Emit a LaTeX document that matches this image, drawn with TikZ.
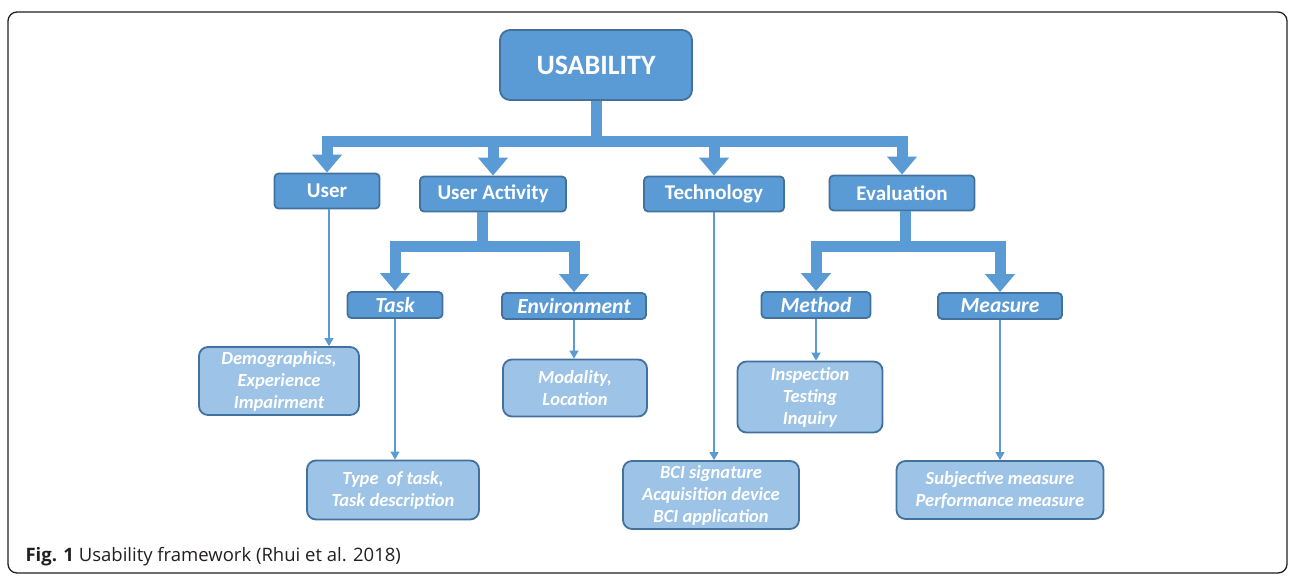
\documentclass[tikz,border=0pt]{standalone}
\usepackage{fontspec}
\setmainfont{Carlito}
\newfontfamily\capfont{Open Sans}
\usetikzlibrary{arrows.meta}
\definecolor{boxblue}{HTML}{5B9BD5}
\definecolor{edgeblue}{HTML}{41719C}
\definecolor{paleblue}{HTML}{9DC3E6}
\definecolor{captext}{HTML}{231F20}

\begin{document}
\begin{tikzpicture}[x=1pt, y=-1pt,
    topbox/.style={rectangle, rounded corners=4pt, draw=edgeblue, line width=1.8pt, fill=boxblue,
        text=white, font=\fontsize{21}{24}\selectfont\bfseries, minimum height=35pt, inner sep=0pt},
    subbox/.style={topbox, font=\fontsize{21.5}{24}\selectfont\bfseries\itshape, minimum height=26pt},
    leafbox/.style={rectangle, rounded corners=9pt, draw=edgeblue, line width=1.8pt, fill=paleblue,
        text=white, align=center, font=\fontsize{18.5}{22}\selectfont\bfseries\itshape, inner sep=0pt},
    bigarrow/.style={boxblue, line width=11pt, -{Triangle[width=29pt,length=18pt]}},
    thinarrow/.style={boxblue, line width=1.3pt, -{Triangle[width=9pt,length=8pt]}}]
    \useasboundingbox (0,0) rectangle (1295,581);
    \draw[captext, line width=1.3pt, rounded corners=9pt] (8,12) rectangle (1287,573);

    % root
    \node[topbox, rounded corners=10pt, minimum width=192pt, minimum height=70pt,
        font=\fontsize{28}{32}\selectfont\bfseries] (usab) at (596,65) {USABILITY};

    % first level
    \node[topbox, minimum width=105pt] (user) at (327,191) {User};
    \node[topbox, minimum width=146pt] (uact) at (493,194) {User Activity};
    \node[topbox, minimum width=140pt] (tech) at (714,194) {Technology};
    \node[topbox, minimum width=145pt] (eval) at (902,193) {Evaluation};

    % second level
    \node[subbox, minimum width=95pt] (task) at (395,305) {Task};
    \node[subbox, minimum width=144pt] (envi) at (574,306) {Environment};
    \node[subbox, minimum width=109pt] (meth) at (816,305) {Method};
    \node[subbox, minimum width=124pt] (meas) at (1000,306) {Measure};

    % leaves
    \node[leafbox, minimum width=160pt, minimum height=68pt] (demo) at (279,381) {Demographics,\\Experience\\Impairment};
    \node[leafbox, minimum width=172pt, minimum height=59pt] (type) at (393,490) {Type~ of task,\\Task description};
    \node[leafbox, minimum width=144pt, minimum height=57pt] (moda) at (575,388) {Modality,\\Location};
    \node[leafbox, minimum width=176pt, minimum height=68pt] (bci) at (711,495) {BCI signature\\Acquisition device\\BCI application};
    \node[leafbox, minimum width=145pt, minimum height=71pt] (insp) at (810,397) {Inspection\\Testing\\Inquiry};
    \node[leafbox, minimum width=207pt, minimum height=58pt] (subj) at (1000,490) {Subjective measure\\Performance measure};

    % thick connectors
    \coordinate (hub) at (596,141);
    \coordinate (uahub) at (482,246);
    \coordinate (evhub) at (905,246);
    \foreach \dst in {user, uact, tech, eval}
        \draw[bigarrow] (usab.south) -- (hub) -| (\dst.north);
    \foreach \dst in {task, envi}
        \draw[bigarrow] (uact.south -| uahub) -- (uahub) -| (\dst.north);
    \foreach \dst in {meth, meas}
        \draw[bigarrow] (eval.south -| evhub) -- (evhub) -| (\dst.north);

    % thin connectors
    \draw[thinarrow] ([xshift=2pt]user.south) -- ([xshift=2pt]user.south |- demo.north);
    \foreach \src/\dst in {task/type, envi/moda, tech/bci, meth/insp, meas/subj}
        \draw[thinarrow] (\src.south) -- (\src.south |- \dst.north);

    % caption
    \node[anchor=west, text=captext, font=\capfont\fontsize{18.5}{22}\selectfont] (cap) at (22,557)
        {\textbf{Fig. 1} Usability framework (Rhui et al. 2018)};
\end{tikzpicture}
\end{document}
